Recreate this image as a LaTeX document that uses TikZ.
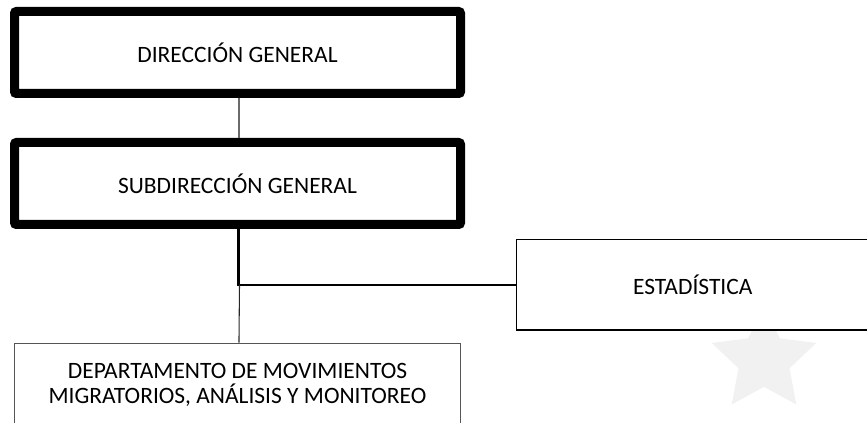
\documentclass[tikz,border=0pt]{standalone}
\usepackage{fontspec}
\setmainfont{Carlito}
\usetikzlibrary{shapes.geometric}
\definecolor{starfill}{HTML}{F1F1F1}
\definecolor{thinline}{HTML}{6A6A6A}
\definecolor{deptline}{HTML}{555555}
\begin{document}
\begin{tikzpicture}[x=0.75pt,y=-0.75pt,
  every node/.style={font=\fontsize{17.6}{18.75}\selectfont, text=black, inner sep=0pt},
  mainbox/.style={draw=black, fill=white, line width=6.75pt, rounded corners=1.5pt,
    minimum width=334.5pt, minimum height=61.5pt},
  unitbox/.style={draw=black, fill=white, line width=1.1pt, align=center},
  deptbox/.style={draw=deptline, fill=white, line width=1.2pt, align=center,
    minimum width=334.5pt, minimum height=61.5pt},
  thinlink/.style={draw=thinline, line width=0.9pt},
  boldlink/.style={draw=black, line width=2.2pt},
  midlink/.style={draw=black, line width=1.6pt},
  droplink/.style={draw=black!85, line width=0.8pt}]
\useasboundingbox (0,0) rectangle (867,423);
\clip (0,0) rectangle (867,423);

% background star mark
\node[star, star points=5, star point ratio=2.05, minimum size=82.5pt,
  fill=starfill, draw=none] (mark) at (764,360) {};

% boxes
\node[mainbox] (dg) at (237.5,52.5) {DIRECCIÓN GENERAL};
\node[mainbox] (sg) at (237.5,183.5) {SUBDIRECCIÓN GENERAL};
\node[unitbox, minimum width=264.4pt, minimum height=67.9pt] (est) at (692.75,284.75) {ESTADÍSTICA};
\node[deptbox] (dep) at (237.5,384.5) {DEPARTAMENTO DE MOVIMIENTOS\\MIGRATORIOS, ANÁLISIS Y MONITOREO};

% connectors
\path[thinlink] ([xshift=1.1pt]dg.south) -- ([xshift=1.1pt]sg.north);
\coordinate (j) at ([xshift=0.4pt]sg.south |- est.west);
\path[boldlink] ([xshift=0.4pt]sg.south) -- ([yshift=-0.8pt]j);
\path[midlink] ([xshift=-0.8pt]j) -- (est.west);
\path[droplink] ([xshift=1.1pt]j) -- ([xshift=1.1pt]dep.north);
\end{tikzpicture}
\end{document}
